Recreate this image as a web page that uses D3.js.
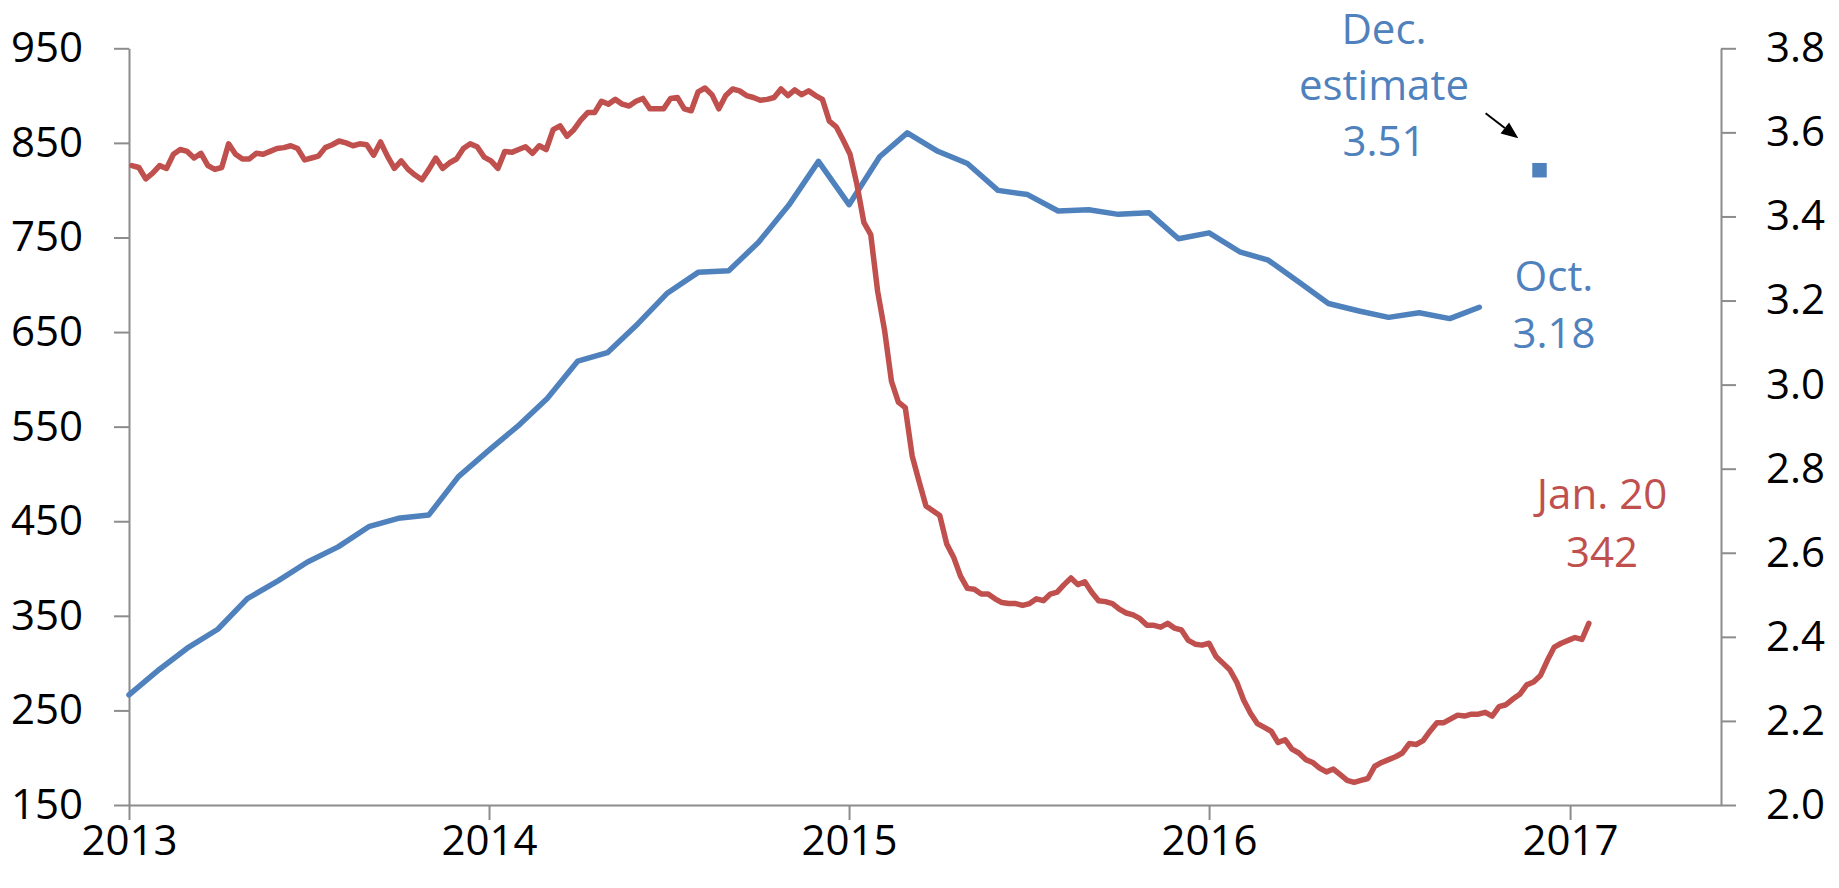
<!DOCTYPE html>
<html>
<head>
<meta charset="utf-8">
<script src="https://cdn.jsdelivr.net/npm/d3@7"></script>
<style>
  body { margin: 0; background: #fff; }
  svg text { font-family: "Open Sans", sans-serif; }
</style>
</head>
<body>
<svg id="chart" width="1839" height="888"></svg>
<script>
// monthly series, right axis (Jan 2013 - Oct 2016)
const blueValues = [
  2.262, 2.323, 2.373, 2.418, 2.491, 2.533, 2.578, 2.614, 2.662, 2.682, 2.690, 2.781,
  2.844, 2.905, 2.967, 3.056, 3.076, 3.145, 3.218, 3.267, 3.271, 3.338, 3.427, 3.531,
  3.428, 3.542, 3.599, 3.555, 3.526, 3.462, 3.452, 3.413, 3.416, 3.405, 3.409, 3.347,
  3.361, 3.316, 3.296, 3.244, 3.193, 3.175, 3.160, 3.171, 3.157, 3.184
]
const blueEstimate = { date: new Date(2016, 11, 1), value: 3.51 }

// weekly series, left axis (Jan 4 2013 - Jan 20 2017)
const redValues = [
  826, 824, 812, 818, 826, 823, 838, 843, 841, 834,
  839, 826, 822, 824, 849, 838, 833, 833, 839, 838,
  841, 844, 845, 847, 844, 832, 834, 836, 845, 848,
  852, 850, 847, 849, 848, 837, 851, 836, 823, 831,
  822, 816, 811, 822, 834, 823, 829, 833, 844, 849,
  846, 835, 831, 823, 841, 840, 843, 846, 839, 847,
  843, 864, 868, 857, 864, 874, 882, 882, 894, 891,
  896, 891, 889, 894, 897, 886, 886, 886, 897, 898,
  886, 884, 904, 908, 901, 886, 900, 907, 905, 900,
  898, 895, 896, 898, 907, 900, 906, 901, 905, 900,
  896, 873, 867, 853, 838, 806, 766, 753, 693, 652,
  598, 576, 570, 519, 492, 466, 461, 456, 426, 412,
  392, 379, 378, 373, 373, 368, 364, 363, 363, 361,
  363, 368, 366, 373, 375, 383, 390, 383, 386, 375,
  366, 365, 363, 357, 353, 351, 347, 340, 340, 338,
  342, 337, 335, 324, 320, 319, 321, 307, 300, 293,
  280, 261, 247, 236, 232, 228, 216, 219, 209, 205,
  198, 195, 189, 185, 188, 182, 176, 174, 176, 178,
  191, 195, 198, 201, 205, 215, 214, 218, 228, 237,
  237, 241, 245, 244, 246, 246, 248, 244, 254, 256,
  262, 267, 277, 280, 287, 303, 317, 321, 324, 327,
  325, 342
]

const leftTicks = [150, 250, 350, 450, 550, 650, 750, 850, 950]
const rightTicks = [2.0, 2.2, 2.4, 2.6, 2.8, 3.0, 3.2, 3.4, 3.6, 3.8]
const yearTicks = [2013, 2014, 2015, 2016, 2017]

const blueLabels = ["Dec.", "estimate", "3.51"]
const octLabels = ["Oct.", "3.18"]
const redLabels = ["Jan. 20", "342"]

const BLUE = "#4f81bd"
const RED = "#c0504d"
const AXIS = "#8c8c8c"
const FONT = 42

const PLOT = { left: 129, right: 1721, top: 48.3, bottom: 805 }

const blueData = d3.timeMonth.range(new Date(2013, 0, 1), new Date(2016, 10, 1))
  .map((d, i) => ({ date: d, value: blueValues[i] }))
const redData = redValues.map((v, i) => ({ date: d3.timeDay.offset(new Date(2013, 0, 4), i * 7), value: v }))

const x = d3.scaleTime()
  .domain([new Date(2013, 0, 1), new Date(2017, 5, 3)])
  .range([PLOT.left, PLOT.right])
const yL = d3.scaleLinear().domain([150, 950]).range([PLOT.bottom, PLOT.top])
const yR = d3.scaleLinear().domain([2.0, 3.8]).range([PLOT.bottom, PLOT.top])

const svg = d3.select("#chart")

function styleAxis(g) {
  g.selectAll("path, line").attr("stroke", AXIS).attr("stroke-width", 2)
  g.selectAll("text").attr("fill", "#000").style("font-size", FONT + "px")
    .style("font-family", '"Open Sans", sans-serif')
}

svg.append("g")
  .attr("transform", `translate(0, ${PLOT.bottom})`)
  .call(d3.axisBottom(x).tickValues(yearTicks.map(y => new Date(y, 0, 1)))
    .tickFormat(d3.timeFormat("%Y")).tickSize(15).tickSizeOuter(0).tickPadding(5))
  .call(styleAxis)

svg.append("g")
  .attr("transform", `translate(${PLOT.left}, 0)`)
  .call(d3.axisLeft(yL).tickValues(leftTicks).tickSize(15).tickSizeOuter(0).tickPadding(31))
  .call(styleAxis)

svg.append("g")
  .attr("transform", `translate(${PLOT.right}, 0)`)
  .call(d3.axisRight(yR).tickValues(rightTicks).tickFormat(d3.format(".1f"))
    .tickSize(15).tickSizeOuter(0).tickPadding(30))
  .call(styleAxis)

// lines
svg.append("path")
  .datum(blueData)
  .attr("fill", "none").attr("stroke", BLUE).attr("stroke-width", 5.5)
  .attr("stroke-linejoin", "round").attr("stroke-linecap", "round")
  .attr("d", d3.line().x(d => x(d.date)).y(d => yR(d.value)))

svg.append("path")
  .datum(redData)
  .attr("fill", "none").attr("stroke", RED).attr("stroke-width", 5.5)
  .attr("stroke-linejoin", "round").attr("stroke-linecap", "round")
  .attr("d", d3.line().x(d => x(d.date)).y(d => yL(d.value)))

// December estimate marker
const sq = 14.5
svg.append("rect")
  .attr("x", x(blueEstimate.date) - sq / 2)
  .attr("y", yR(blueEstimate.value) - sq / 2)
  .attr("width", sq).attr("height", sq)
  .attr("fill", BLUE)

// annotations
function label(lines, cx, firstBaseline, step, color) {
  const t = svg.append("text")
    .attr("text-anchor", "middle").attr("fill", color)
    .style("font-size", FONT + "px")
  lines.forEach((s, i) => {
    t.append("tspan").attr("x", cx).attr("y", firstBaseline + i * step).text(s)
  })
}
label(blueLabels, 1384, 44, 56, BLUE)
label(octLabels, 1554, 291, 57, BLUE)
label(redLabels, 1602, 509, 58, RED)

// arrow toward the estimate marker
const a0 = [1485.6, 113.3], a1 = [1518.3, 138.3]
const ang = Math.atan2(a1[1] - a0[1], a1[0] - a0[0])
const hl = 17, hw = 7
const base = [a1[0] - hl * Math.cos(ang), a1[1] - hl * Math.sin(ang)]
svg.append("line")
  .attr("x1", a0[0]).attr("y1", a0[1]).attr("x2", base[0]).attr("y2", base[1])
  .attr("stroke", "#000").attr("stroke-width", 2)
svg.append("path")
  .attr("d", d3.line()([
    a1,
    [base[0] + hw * Math.sin(ang), base[1] - hw * Math.cos(ang)],
    [base[0] - hw * Math.sin(ang), base[1] + hw * Math.cos(ang)]
  ]) + "Z")
  .attr("fill", "#000")
</script>
</body>
</html>
